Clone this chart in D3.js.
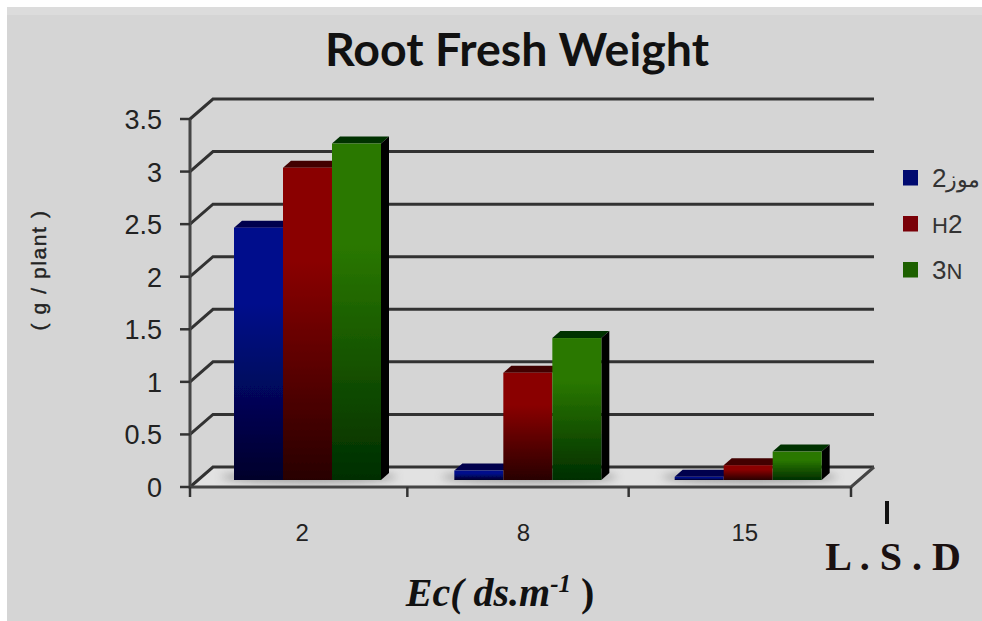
<!DOCTYPE html>
<html>
<head>
<meta charset="utf-8">
<script src="https://cdn.jsdelivr.net/npm/d3@7"></script>
<style>
body { margin: 0; background: #fff; }
svg { display: block; }
</style>
</head>
<body>
<svg id="chart" width="982" height="621"></svg>
<script>
const categories = ["2", "8", "15"];
const seriesNames = ["H1", "H2", "H3"];
const legendLabels = ["2موز", "H2", "3N"];
const h1Values = [2.4, 0.09, 0.03];
const h2Values = [2.97, 1.02, 0.14];
const h3Values = [3.2, 1.35, 0.27];
const yTicks = [0, 0.5, 1, 1.5, 2, 2.5, 3, 3.5];
const seriesValues = [h1Values, h2Values, h3Values];

const topColors = ["#000d8c", "#8a0000", "#2a7800"];
const bottomColors = ["#00002a", "#280000", "#002e00"];
const capColors = ["#00004d", "#420000", "#003000"];
const legendColors = ["#000a70", "#7a0008", "#1d6000"];

const svg = d3.select("#chart");
const plotLeft = 190, plotRight = 851, plotBottom = 487, plotTop = 119;
const depthX = 23, depthY = 20;
const barDepthX = 8, barDepthY = 7;
const floorInset = 7;

const y = d3.scaleLinear().domain([0, 3.5]).range([plotBottom, plotTop]);
const x = d3.scaleBand().domain(categories).range([plotLeft, plotRight]);
const xBar = d3.scaleBand().domain(seriesNames).range([44, 191]);

const defs = svg.append("defs");
seriesNames.forEach((name, i) => {
    const grad = defs.append("linearGradient")
        .attr("id", "grad" + i)
        .attr("x1", 0).attr("y1", 0).attr("x2", 0).attr("y2", 1);
    grad.append("stop").attr("offset", "0%").attr("stop-color", topColors[i]);
    grad.append("stop").attr("offset", "30%").attr("stop-color", topColors[i]);
    grad.append("stop").attr("offset", "100%").attr("stop-color", bottomColors[i]);
});
defs.append("filter").attr("id", "soft")
    .append("feGaussianBlur").attr("stdDeviation", 0.7);
defs.append("filter").attr("id", "shadow")
    .append("feGaussianBlur").attr("stdDeviation", 4);

svg.append("rect").attr("width", 982).attr("height", 621).attr("fill", "#fff");
svg.append("rect").attr("x", 7).attr("y", 7).attr("width", 975).attr("height", 614).attr("fill", "#d5d5d5");
svg.append("rect").attr("x", 7).attr("y", 7).attr("width", 975).attr("height", 8).attr("fill", "#dcdcdc");

const plot = svg.append("g").attr("filter", "url(#soft)");

// Floor
plot.append("path")
    .attr("d", `M${plotLeft},${plotBottom}L${plotLeft + depthX},${plotBottom - depthY}H${plotRight + depthX}L${plotRight},${plotBottom}Z`)
    .attr("fill", "#e2e2e2");

// Back wall gridlines and their diagonals
yTicks.forEach(t => {
    plot.append("path")
        .attr("d", `M${plotLeft},${y(t)}L${plotLeft + depthX},${y(t) - depthY}H${plotRight + depthX}`)
        .attr("fill", "none").attr("stroke", "#333").attr("stroke-width", 3);
});

// Axes
plot.append("path")
    .attr("d", `M${plotLeft},${plotTop}V${plotBottom}H${plotRight}L${plotRight + depthX},${plotBottom - depthY}`)
    .attr("fill", "none").attr("stroke", "#444").attr("stroke-width", 3);
yTicks.forEach(t => {
    plot.append("line")
        .attr("x1", plotLeft - 10).attr("x2", plotLeft)
        .attr("y1", y(t)).attr("y2", y(t))
        .attr("stroke", "#333").attr("stroke-width", 2.5);
});
[plotLeft, plotLeft + x.bandwidth() - 3, plotLeft + 2 * x.bandwidth() - 2, plotRight].forEach(tx => {
    plot.append("line")
        .attr("x1", tx).attr("x2", tx)
        .attr("y1", plotBottom).attr("y2", plotBottom + 10)
        .attr("stroke", "#333").attr("stroke-width", 2.5);
});

// Bars
const baseY = v => y(v) - floorInset;
categories.forEach((cat, c) => {
    const x0 = x(cat) + 44;
    plot.append("ellipse")
        .attr("cx", x0 + 75).attr("cy", baseY(0) - 3)
        .attr("rx", 88).attr("ry", 6)
        .attr("fill", "#888").attr("opacity", 0.75)
        .attr("filter", "url(#shadow)");
    seriesNames.forEach((name, s) => {
        const v = seriesValues[s][c];
        const bx = x(cat) + xBar(name);
        const bw = xBar.bandwidth();
        plot.append("path")
            .attr("d", `M${bx},${baseY(v)}l${barDepthX},${-barDepthY}h${bw}l${-barDepthX},${barDepthY}Z`)
            .attr("fill", capColors[s]);
        if (s === 2) {
            plot.append("path")
                .attr("d", `M${bx + bw},${baseY(v)}l${barDepthX},${-barDepthY}V${baseY(0) - barDepthY}l${-barDepthX},${barDepthY}Z`)
                .attr("fill", "#000");
        }
        plot.append("rect")
            .attr("x", bx).attr("y", baseY(v))
            .attr("width", bw).attr("height", baseY(0) - baseY(v))
            .attr("fill", `url(#grad${s})`);
    });
});

// Tick labels
const labelFont = "Liberation Sans, Arial, sans-serif";
yTicks.forEach(t => {
    svg.append("text")
        .attr("x", 162).attr("y", y(t) + 10)
        .attr("text-anchor", "end")
        .attr("font-family", labelFont).attr("font-size", 27)
        .attr("fill", "#222")
        .text(t);
});
categories.forEach((cat, i) => {
    svg.append("text")
        .attr("x", x(cat) + x.bandwidth() / 2 + 2 + i).attr("y", 541)
        .attr("text-anchor", "middle")
        .attr("font-family", labelFont).attr("font-size", 24)
        .attr("fill", "#222")
        .text(cat);
});

// Title and axis names
svg.append("text")
    .attr("x", 517).attr("y", 65.5)
    .attr("text-anchor", "middle")
    .attr("font-family", "Lato, sans-serif").attr("font-weight", 700).attr("font-size", 46.5)
    .attr("fill", "#111")
    .text("Root Fresh Weight");
svg.append("text")
    .attr("transform", "translate(46,270) rotate(-90)")
    .attr("text-anchor", "middle")
    .attr("font-family", labelFont).attr("font-size", 21).attr("letter-spacing", 1.6)
    .attr("stroke", "#222").attr("stroke-width", 0.4)
    .attr("fill", "#222")
    .text("( g / plant )");
const xName = svg.append("text")
    .attr("x", 500).attr("y", 606)
    .attr("text-anchor", "middle")
    .attr("font-family", "Liberation Serif, serif").attr("font-weight", 700).attr("font-style", "italic").attr("font-size", 40)
    .attr("fill", "#111");
xName.append("tspan").text("Ec( ds.m");
xName.append("tspan").attr("dy", -14).attr("font-size", 25).text("-1");
xName.append("tspan").attr("dy", 14).attr("font-style", "normal").text(" )");

// Legend
const legendY = d3.scalePoint().domain(seriesNames).range([178, 270]);
seriesNames.forEach((name, i) => {
    svg.append("rect")
        .attr("x", 903).attr("y", legendY(name) - 8)
        .attr("width", 15).attr("height", 15.5)
        .attr("fill", legendColors[i]);
    const label = svg.append("text")
        .attr("x", 932).attr("y", legendY(name) + 9)
        .attr("font-family", labelFont).attr("font-size", 26)
        .attr("fill", "#333");
    // digits are drawn larger than the letters next to them
    legendLabels[i].match(/\d+|\D+/g).forEach(part => {
        label.append("tspan")
            .attr("font-size", /\d/.test(part) ? 26 : 22)
            .text(part);
    });
});

// LSD bar
svg.append("line")
    .attr("x1", 887).attr("x2", 887).attr("y1", 501).attr("y2", 524)
    .attr("stroke", "#111").attr("stroke-width", 4);
svg.append("text")
    .attr("x", 893).attr("y", 570)
    .attr("text-anchor", "middle")
    .attr("font-family", "Liberation Serif, serif").attr("font-weight", 700).attr("font-size", 40)
    .attr("fill", "#1a1010")
    .text("L . S . D");
</script>
</body>
</html>
